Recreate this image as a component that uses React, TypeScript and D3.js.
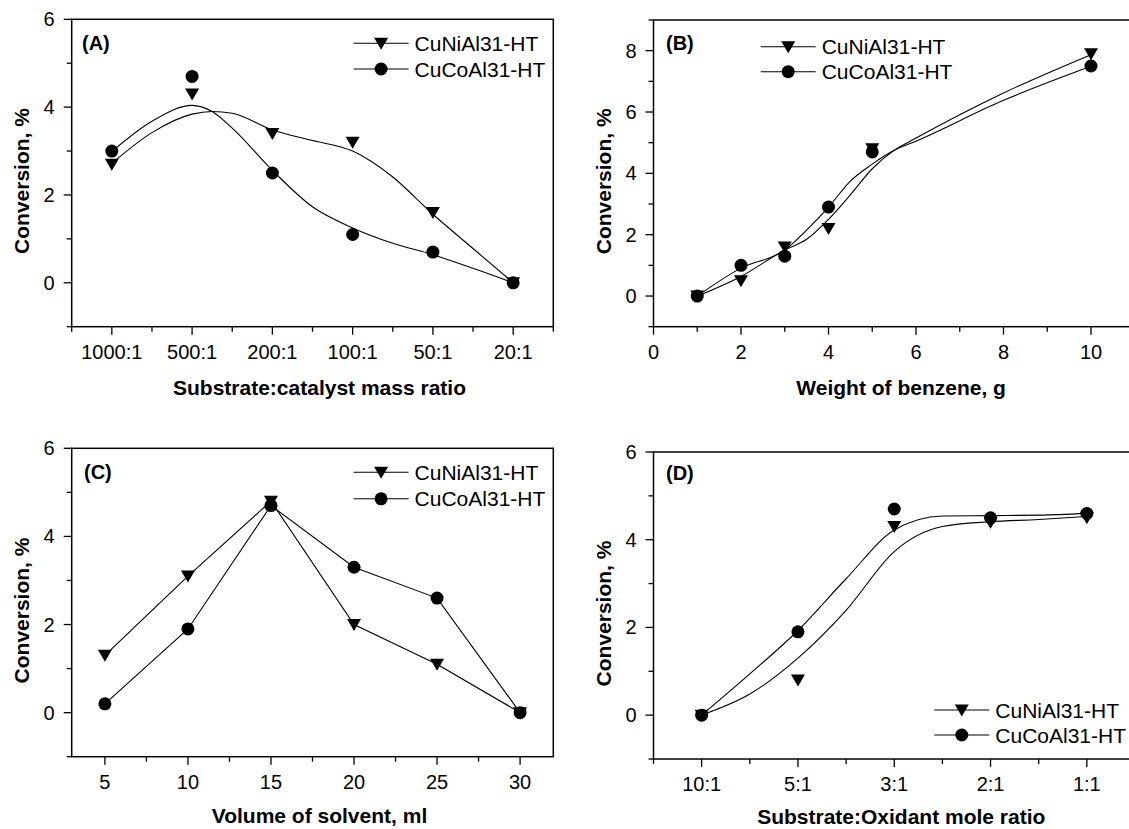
import React from 'react';
import * as d3 from 'd3';

const FONT = "'Liberation Sans', Arial, Helvetica, sans-serif";

// ---------- Panel A : Substrate:catalyst mass ratio ----------
const catsA = ['1000:1', '500:1', '200:1', '100:1', '50:1', '20:1'];
const niA = [2.7, 4.3, 3.4, 3.2, 1.6, 0];
const coA = [3.0, 4.7, 2.5, 1.1, 0.7, 0];
const fitXA = [0, 0.5, 1, 1.25, 1.5, 2, 2.5, 3, 3.5, 4, 4.5, 5];
const niFitA = [2.72, 3.42, 3.84, 3.9, 3.86, 3.48, 3.24, 3.0, 2.41, 1.56, 0.78, 0];
const coFitA = [2.99, 3.68, 4.04, 3.9, 3.52, 2.56, 1.73, 1.25, 0.9, 0.64, 0.33, 0];

// ---------- Panel B : Weight of benzene ----------
const xB = [1, 2, 3, 4, 5, 10];
const niB = [0, 0.5, 1.6, 2.2, 4.8, 7.9];
const coB = [0, 1.0, 1.3, 2.9, 4.7, 7.5];
const fitXB = [1, 2, 3, 3.5, 4, 4.5, 5, 5.5, 6, 8, 10];
const niFitB = [0, 0.64, 1.5, 1.85, 2.5, 3.3, 4.15, 4.75, 5.15, 6.62, 7.87];
const coFitB = [0, 0.91, 1.5, 2.15, 2.9, 3.75, 4.3, 4.75, 5.05, 6.38, 7.49];

// ---------- Panel C : Volume of solvent ----------
const xC = [5, 10, 15, 20, 25, 30];
const niC = [1.3, 3.1, 4.8, 2.0, 1.1, 0];
const coC = [0.2, 1.9, 4.7, 3.3, 2.6, 0];

// ---------- Panel D : Substrate:Oxidant mole ratio ----------
const catsD = ['10:1', '5:1', '3:1', '2:1', '1:1'];
const niD = [0, 0.8, 4.3, 4.4, 4.5];
const coD = [0, 1.9, 4.7, 4.5, 4.6];
const fitXD = [0, 0.5, 1, 1.5, 2, 2.5, 3, 3.5, 4];
const niFitD = [0, 0.48, 1.3, 2.39, 3.73, 4.3, 4.41, 4.46, 4.53];
const coFitD = [0, 0.94, 1.93, 3.11, 4.22, 4.54, 4.55, 4.56, 4.6];

const seriesNames = ['CuNiAl31-HT', 'CuCoAl31-HT'];

type Pt = [number, number];
const zip = (xs: number[], ys: number[]): Pt[] => xs.map((x, i) => [x, ys[i]]);

interface PanelCfg {
  label: string;
  frame: { x0: number; x1: number; y0: number; y1: number };
  xDomain: [number, number];
  yDomain: [number, number];
  xMajor: { v: number; label: string }[];
  xMinor: number[];
  yMajor: number[];
  yMinor: number[];
  ni: Pt[];
  co: Pt[];
  niLine: Pt[];
  coLine: Pt[];
  smooth: boolean;
  legend: { x: number; y: number; gap: number };
  labelPos: { x: number; y: number };
  xTitle: string;
  titleOff: number;
}

const panels: PanelCfg[] = [
  {
    label: '(A)',
    frame: { x0: 71.7, x1: 553.3, y0: 19.3, y1: 326.7 },
    xDomain: [-0.5, 5.5],
    yDomain: [-1, 6],
    xMajor: catsA.map((c, i) => ({ v: i, label: c })),
    xMinor: d3.range(-0.5, 5.6, 1),
    yMajor: [0, 2, 4, 6],
    yMinor: [-1, 1, 3, 5],
    ni: zip(d3.range(catsA.length), niA),
    co: zip(d3.range(catsA.length), coA),
    niLine: zip(fitXA, niFitA),
    coLine: zip(fitXA, coFitA),
    smooth: true,
    legend: { x: 353.6, y: 43.3, gap: 25.7 },
    labelPos: { x: 82, y: 43.3 },
    xTitle: 'Substrate:catalyst mass ratio',
    titleOff: 61,
  },
  {
    label: '(B)',
    frame: { x0: 653.5, x1: 1134.75, y0: 20, y1: 326.7 },
    xDomain: [0, 11],
    yDomain: [-1, 9],
    xMajor: [0, 2, 4, 6, 8, 10].map((v) => ({ v, label: String(v) })),
    xMinor: [1, 3, 5, 7, 9, 11],
    yMajor: [0, 2, 4, 6, 8],
    yMinor: [-1, 1, 3, 5, 7, 9],
    ni: zip(xB, niB),
    co: zip(xB, coB),
    niLine: zip(fitXB, niFitB),
    coLine: zip(fitXB, coFitB),
    smooth: true,
    legend: { x: 760.7, y: 46.7, gap: 25 },
    labelPos: { x: 666, y: 43.3 },
    xTitle: 'Weight of benzene, g',
    titleOff: 61,
  },
  {
    label: '(C)',
    frame: { x0: 71.7, x1: 553.3, y0: 448.3, y1: 756.7 },
    xDomain: [3, 32],
    yDomain: [-1, 6],
    xMajor: xC.map((v) => ({ v, label: String(v) })),
    xMinor: [7.5, 12.5, 17.5, 22.5, 27.5],
    yMajor: [0, 2, 4, 6],
    yMinor: [-1, 1, 3, 5],
    ni: zip(xC, niC),
    co: zip(xC, coC),
    niLine: zip(xC, niC),
    coLine: zip(xC, coC),
    smooth: false,
    legend: { x: 353.6, y: 472.3, gap: 26.5 },
    labelPos: { x: 84, y: 471.7 },
    xTitle: 'Volume of solvent, ml',
    titleOff: 58.5,
  },
  {
    label: '(D)',
    frame: { x0: 653.5, x1: 1135, y0: 452, y1: 759 },
    xDomain: [-0.5, 4.5],
    yDomain: [-1, 6],
    xMajor: catsD.map((c, i) => ({ v: i, label: c })),
    xMinor: d3.range(-0.5, 4.6, 1),
    yMajor: [0, 2, 4, 6],
    yMinor: [-1, 1, 3, 5],
    ni: zip(d3.range(catsD.length), niD),
    co: zip(d3.range(catsD.length), coD),
    niLine: zip(fitXD, niFitD),
    coLine: zip(fitXD, coFitD),
    smooth: true,
    legend: { x: 934.3, y: 710, gap: 25 },
    labelPos: { x: 666, y: 473.3 },
    xTitle: 'Substrate:Oxidant mole ratio',
    titleOff: 57.5,
  },
];

const TRI = 'M-7,-5.5L7,-5.5L0,6.5Z';
const CIRCLE_R = 6.5;

function Marker({ kind, x, y }: { kind: 'tri' | 'circ'; x: number; y: number }) {
  return kind === 'tri' ? (
    <path d={TRI} transform={`translate(${x},${y})`} fill="#000" />
  ) : (
    <circle cx={x} cy={y} r={CIRCLE_R} fill="#000" />
  );
}

function Panel({ p }: { p: PanelCfg }) {
  const { x0, x1, y0, y1 } = p.frame;
  const xs = d3.scaleLinear().domain(p.xDomain).range([x0, x1]);
  const ys = d3.scaleLinear().domain(p.yDomain).range([y1, y0]);
  const line = d3
    .line<Pt>()
    .x((d) => xs(d[0]))
    .y((d) => ys(d[1]))
    .curve(p.smooth ? d3.curveMonotoneX : d3.curveLinear);
  const titleX = (x0 + x1) / 2 + 7;
  const yTitleY = (y0 + y1) / 2 + 8;
  const major = 8;
  const minor = 5;
  return (
    <g>
      <rect x={x0} y={y0} width={x1 - x0} height={y1 - y0} fill="none" stroke="#000" strokeWidth={1.5} />
      {p.yMajor.map((v) => (
        <g key={'ym' + v}>
          <line x1={x0 - major} x2={x0} y1={ys(v)} y2={ys(v)} stroke="#000" strokeWidth={1.3} />
          <text x={x0 - 17} y={ys(v)} textAnchor="end" dominantBaseline="central" fontSize={20} fontFamily={FONT}>
            {v}
          </text>
        </g>
      ))}
      {p.yMinor.map((v) => (
        <line key={'yn' + v} x1={x0 - minor} x2={x0} y1={ys(v)} y2={ys(v)} stroke="#000" strokeWidth={1.3} />
      ))}
      {p.xMajor.map((t) => (
        <g key={'xm' + t.v}>
          <line x1={xs(t.v)} x2={xs(t.v)} y1={y1} y2={y1 + major} stroke="#000" strokeWidth={1.3} />
          <text x={xs(t.v)} y={y1 + 25} textAnchor="middle" dominantBaseline="central" fontSize={20} fontFamily={FONT}>
            {t.label}
          </text>
        </g>
      ))}
      {p.xMinor.map((v) => (
        <line key={'xn' + v} x1={xs(v)} x2={xs(v)} y1={y1} y2={y1 + minor} stroke="#000" strokeWidth={1.3} />
      ))}
      <text x={titleX} y={y1 + p.titleOff} textAnchor="middle" dominantBaseline="central" fontSize={21} fontWeight="bold" fontFamily={FONT}>
        {p.xTitle}
      </text>
      <text
        transform={`translate(${x0 - 50},${yTitleY}) rotate(-90)`}
        textAnchor="middle"
        dominantBaseline="central"
        fontSize={21}
        fontWeight="bold"
        fontFamily={FONT}
      >
        Conversion, %
      </text>
      <text x={p.labelPos.x} y={p.labelPos.y} dominantBaseline="central" fontSize={20} fontWeight="bold" fontFamily={FONT}>
        {p.label}
      </text>
      <path d={line(p.niLine) || ''} fill="none" stroke="#000" strokeWidth={1.1} />
      <path d={line(p.coLine) || ''} fill="none" stroke="#000" strokeWidth={1.1} />
      {p.ni.map((d, i) => (
        <Marker key={'n' + i} kind="tri" x={xs(d[0])} y={ys(d[1])} />
      ))}
      {p.co.map((d, i) => (
        <Marker key={'c' + i} kind="circ" x={xs(d[0])} y={ys(d[1])} />
      ))}
      {seriesNames.map((name, i) => {
        const ly = p.legend.y + i * p.legend.gap;
        const lx0 = p.legend.x;
        const lx1 = lx0 + 55;
        return (
          <g key={name}>
            <line x1={lx0} x2={lx1} y1={ly} y2={ly} stroke="#000" strokeWidth={1.1} />
            <Marker kind={i === 0 ? 'tri' : 'circ'} x={(lx0 + lx1) / 2} y={ly} />
            <text x={lx1 + 6} y={ly} dominantBaseline="central" fontSize={21} fontFamily={FONT}>
              {name}
            </text>
          </g>
        );
      })}
    </g>
  );
}

export default function App() {
  return (
    <svg
      width={1129}
      height={829}
      viewBox="0 0 1129 829"
      style={{ position: 'absolute', left: 0, top: 0, background: '#fff' }}
    >
      <rect x={0} y={0} width={1129} height={829} fill="#fff" />
      {panels.map((p) => (
        <Panel key={p.label} p={p} />
      ))}
    </svg>
  );
}
